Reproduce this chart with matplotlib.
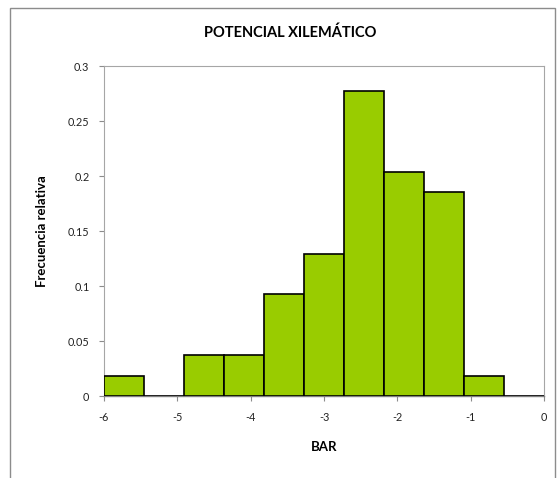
import numpy as np
import matplotlib.pyplot as plt
from matplotlib.patches import Rectangle
from matplotlib.ticker import FuncFormatter

plt.rcParams['font.family'] = ['Lato', 'DejaVu Sans']
plt.rcParams['axes.unicode_minus'] = False

# histogram of xylem water potential (bar), 11 bins from -6 to 0
bin_start = -6.0
bin_stop = 0.0
n_bins = 11
rel_freq = [0.0185, 0.0, 0.037, 0.037, 0.0926, 0.1296, 0.2778, 0.2037, 0.1852, 0.0185, 0.0]
x_ticks = [-6, -5, -4, -3, -2, -1, 0]
y_ticks = [0, 0.05, 0.1, 0.15, 0.2, 0.25, 0.3]

edges = np.linspace(bin_start, bin_stop, n_bins + 1)
width = edges[1] - edges[0]

fig = plt.figure(figsize=(5.57, 4.78), dpi=100)
ax = fig.add_axes([0.1867, 0.1715, 0.79, 0.690])

ax.bar(edges[:-1], rel_freq, width=width, align='edge',
       color='#99cc00', edgecolor='black', linewidth=1.2, zorder=3)

ax.set_xlim(bin_start, bin_stop)
ax.set_ylim(0, 0.3)
ax.set_xticks(x_ticks)
ax.set_yticks(y_ticks)
ax.yaxis.set_major_formatter(FuncFormatter(lambda v, p: f'{v:g}'))
ax.tick_params(axis='both', labelsize=7.8, direction='out', length=3.5,
               color='#8c8c8c', width=0.8, labelcolor='#222222')
ax.tick_params(axis='x', pad=8)
ax.tick_params(axis='y', pad=7)

for side in ['top', 'right', 'left']:
    ax.spines[side].set_color('#a6a6a6')
    ax.spines[side].set_linewidth(0.8)
ax.spines['bottom'].set_color('#808080')
ax.spines['bottom'].set_linewidth(1.0)

ax.set_xlabel('BAR', fontsize=9.5, fontweight='bold', labelpad=13)
ax.set_ylabel('Frecuencia relativa', fontsize=9.5, fontweight='bold', labelpad=14)

fig.text(0.521, 0.931, 'POTENCIAL XILEMÁTICO', ha='center', va='center',
         fontsize=10.5, fontweight='bold')

# chart area border
fig.patches.append(Rectangle((10 / 557, -0.02), 545 / 557, 1 - 8 / 478 + 0.02,
                             transform=fig.transFigure, fill=False,
                             edgecolor='#8c8c8c', linewidth=1.0))

fig.savefig('out.png', dpi=100)
